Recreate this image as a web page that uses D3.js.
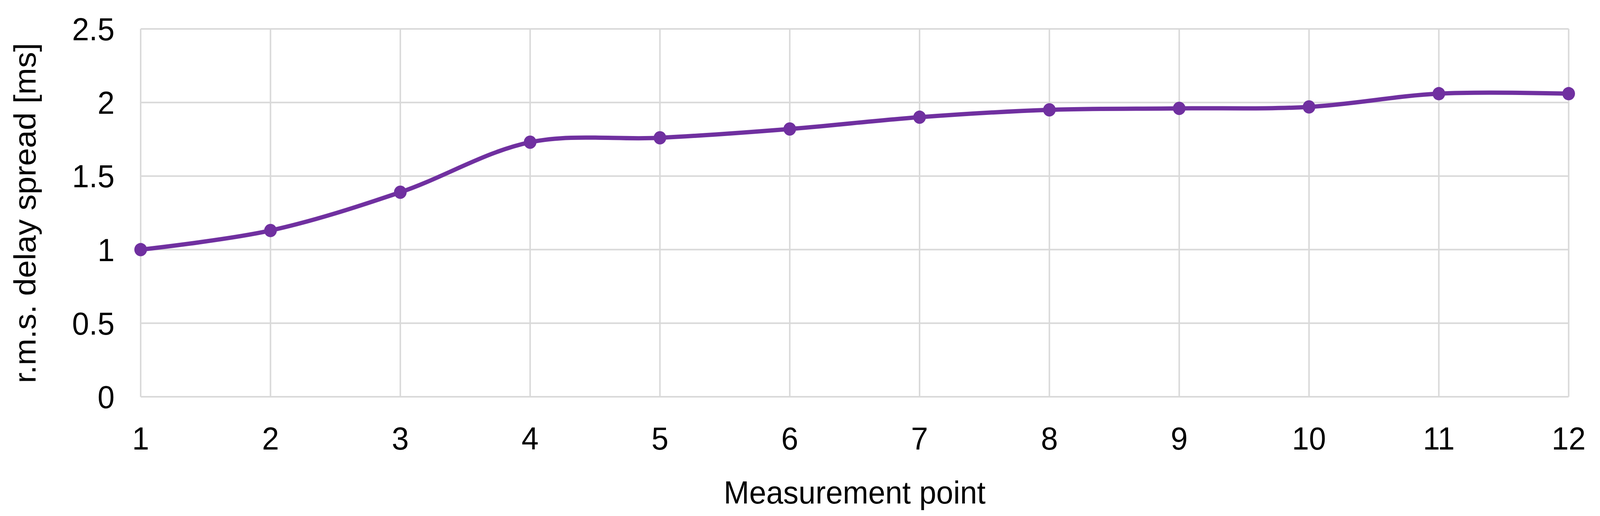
<!DOCTYPE html>
<html><head><meta charset="utf-8">
<script src="https://cdn.jsdelivr.net/npm/d3@7"></script>
<style>html,body{margin:0;padding:0;background:#fff;overflow:hidden}svg{display:block;width:100vw;height:100vh}text{font-family:"Liberation Sans",Arial,sans-serif;fill:#000}</style>
</head><body><svg id="c" viewBox="0 0 4288 1320" preserveAspectRatio="none"></svg>
<script>
const points = [1,2,3,4,5,6,7,8,9,10,11,12];
const values = [1.0,1.13,1.39,1.73,1.76,1.82,1.90,1.95,1.96,1.97,2.06,2.06];
const yTicks = [0,0.5,1,1.5,2,2.5];
const svg = d3.select("#c");
const L=377,R=4204,T=74,B=1015;
const x=d3.scaleLinear().domain([1,12]).range([L,R]);
const y=d3.scaleLinear().domain([0,2.5]).range([B,T]);
const g=svg.append("g");
g.selectAll(".v").data(points).join("line").attr("x1",d=>x(d)).attr("x2",d=>x(d)).attr("y1",T).attr("y2",B).attr("stroke","#d9d9d9").attr("stroke-width",4);
g.selectAll(".h").data(yTicks).join("line").attr("x1",L).attr("x2",R).attr("y1",d=>y(d)).attr("y2",d=>y(d)).attr("stroke","#d9d9d9").attr("stroke-width",4);
svg.selectAll(".xl").data(points).join("text").attr("x",d=>x(d)).attr("y",1150).attr("text-anchor","middle").attr("font-size",82).text(d=>d);
svg.selectAll(".yl").data(yTicks).join("text").attr("x",L-70).attr("y",d=>y(d)+29).attr("text-anchor","end").attr("font-size",82).text(d=>d);
svg.append("text").attr("x",(L+R)/2).attr("y",1288).attr("text-anchor","middle").attr("font-size",82).text("Measurement point");
svg.append("text").attr("transform","translate(95,545) rotate(-90)").attr("text-anchor","middle").attr("font-size",82).text("r.m.s. delay spread [ms]");
const data=points.map((p,i)=>[p,values[i]]);
svg.append("path").datum(data).attr("d",d3.line().x(d=>x(d[0])).y(d=>y(d[1])).curve(d3.curveCatmullRom.alpha(0.5))).attr("fill","none").attr("stroke","#7030a0").attr("stroke-width",11);
svg.selectAll(".m").data(data).join("circle").attr("cx",d=>x(d[0])).attr("cy",d=>y(d[1])).attr("r",17).attr("fill","#7030a0");
</script></body></html>
